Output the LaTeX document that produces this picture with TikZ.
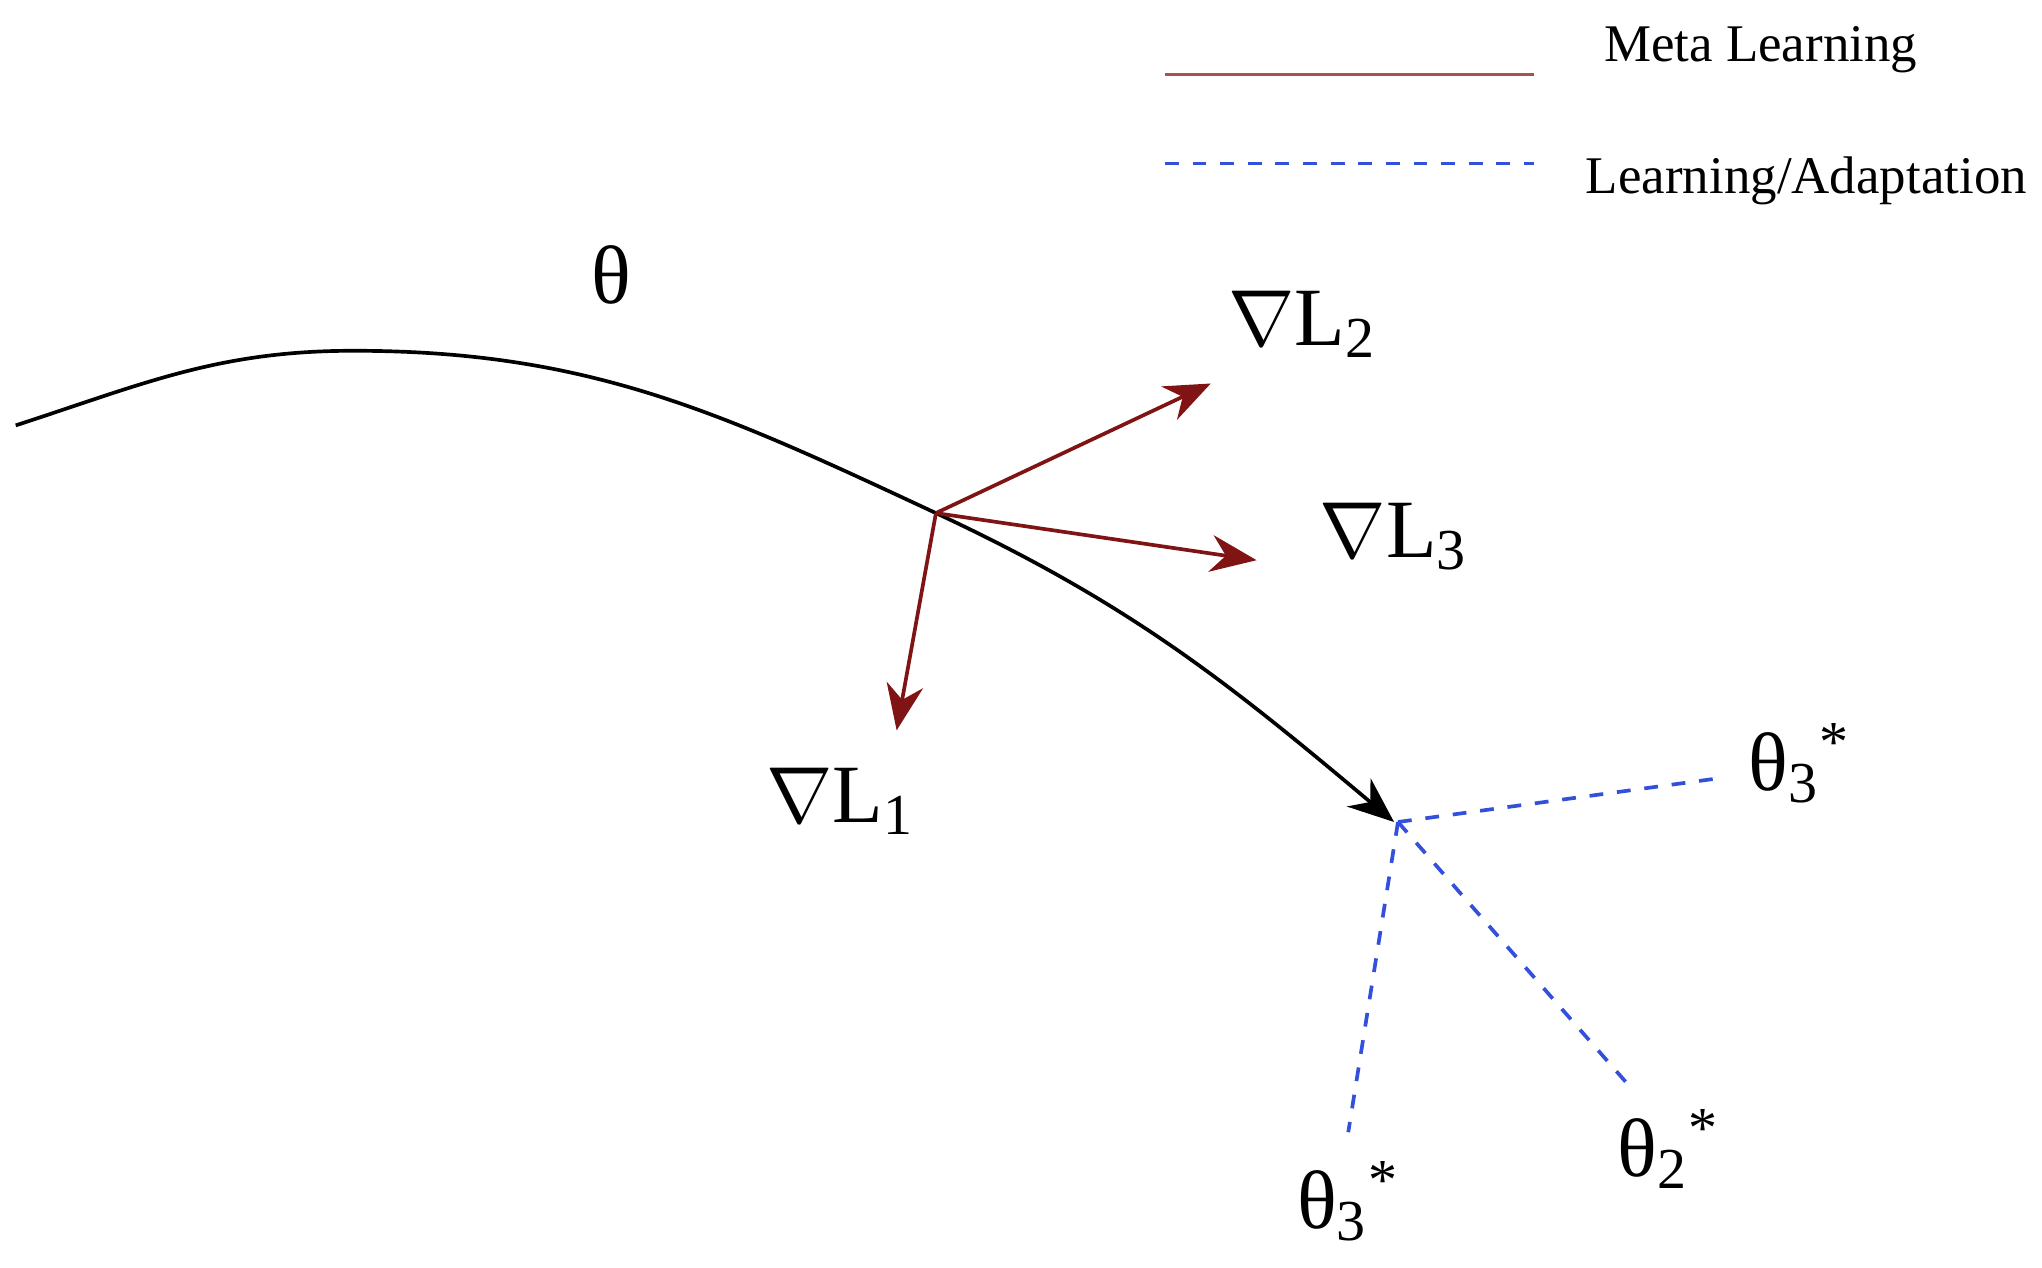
\documentclass[tikz,border=0pt]{standalone}
\usepackage{fontspec}
\setmainfont{Liberation Serif}
\usetikzlibrary{arrows.meta}
\definecolor{metared}{RGB}{128,20,20}
\definecolor{legred}{RGB}{170,80,80}
\definecolor{adaptblue}{RGB}{50,80,220}
\begin{document}
\begin{tikzpicture}[x=0.01cm, y=0.01cm]
    \tikzstyle{lbl} = [font=\fontsize{18}{22}\selectfont]
    \tikzstyle{meta} = [metared, thick, -{Stealth[length=10pt,width=8pt]}]
    \tikzstyle{adapt} = [adaptblue, thick, dashed]
    \tikzstyle{leg} = [font=\fontsize{11.5}{14}\selectfont]
    \useasboundingbox (0,0) rectangle (1560,968);

    % path of theta
    \coordinate (s) at (12,643);
    \coordinate (peak) at (270,700);
    \coordinate (o) at (715,576);
    \coordinate (e) at (1065,340);
    \draw[thick, -{Stealth[length=10pt,width=8pt]}] (s) to[out=18,in=180] (peak)
        to[out=0,in=155] (o) to[out=-25,in=140] (e);

    % gradients
    \coordinate (g1) at (685,410);
    \coordinate (g2) at (925,675);
    \coordinate (g3) at (960,540);
    \draw[meta] (o) -- (g1);
    \draw[meta] (o) -- (g2);
    \draw[meta] (o) -- (g3);
    \node[lbl] (t) at (467,758) {θ};
    \node[lbl] (l1) at (642,356) {$\nabla$L\textsubscript{1}};
    \node[lbl] (l2) at (995,720) {$\nabla$L\textsubscript{2}};
    \node[lbl] (l3) at (1065,558) {$\nabla$L\textsubscript{3}};

    % adaptation
    \coordinate (b) at (1068,340);
    \coordinate (a1) at (1310,373);
    \coordinate (a2) at (1030,103);
    \coordinate (a3) at (1245,138);
    \draw[adapt] (b) -- (a1);
    \draw[adapt] (b) -- (a2);
    \draw[adapt] (b) -- (a3);
    \node[lbl] (p1) at (1375,385) {θ\textsubscript{3}\textsuperscript{*}};
    \node[lbl] (p2) at (1030,50) {θ\textsubscript{3}\textsuperscript{*}};
    \node[lbl] (p3) at (1275,90) {θ\textsubscript{2}\textsuperscript{*}};

    % legend
    \coordinate (m1) at (890,911);
    \coordinate (m2) at (1172,911);
    \coordinate (d1) at (890,843);
    \coordinate (d2) at (1172,843);
    \draw[legred, thick] (m1) -- (m2);
    \draw[adapt] (d1) -- (d2);
    \node[leg] (mt) at (1345,930) {Meta Learning};
    \node[leg] (dt) at (1380,830) {Learning/Adaptation};
\end{tikzpicture}
\end{document}
